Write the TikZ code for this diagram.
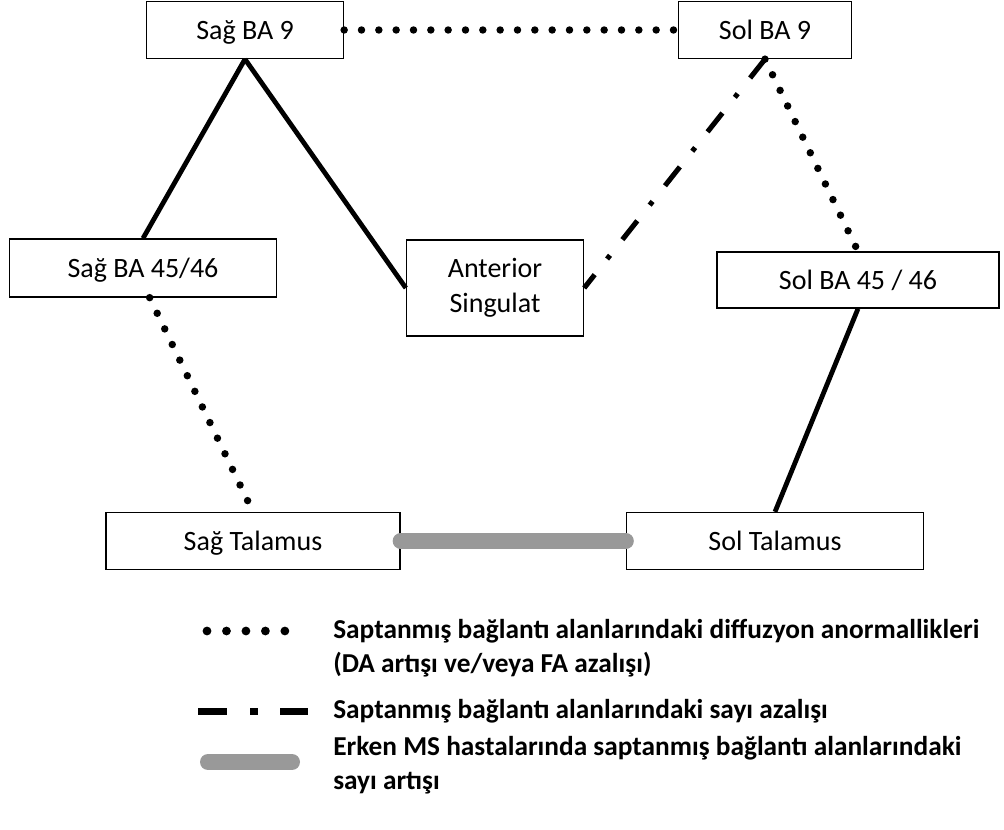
\documentclass[tikz,border=0pt]{standalone}
\usepackage{fontspec}
\setmainfont{Carlito}
\tikzset{
  box/.style={draw, line width=1pt, inner sep=0pt, font=\fontsize{21}{26}\selectfont},
  oneline/.style={text height=16pt, text depth=2pt},
  solidlink/.style={line width=3.6pt},
  dotlink/.style={line width=5.6pt, line cap=round, dash pattern=on 0pt off 13pt},
  dashdotlink/.style={line width=3.8pt, dash pattern=on 18pt off 15pt on 3.5pt off 15pt},
  graylink/.style={line width=12pt, line cap=round, color=gray!80},
  legendtext/.style={anchor=west, align=left, inner sep=0pt, font=\fontsize{20.5}{25.5}\selectfont\bfseries}
}
\begin{document}
\begin{tikzpicture}[x=0.75pt, y=-0.75pt]
  \useasboundingbox (0,0) rectangle (1004,830);
  \node[box, oneline, minimum width=147.75pt, minimum height=42.75pt] (sagba9) at (245,30) {Sağ BA 9};
  \node[box, oneline, minimum width=129.75pt, minimum height=42.75pt] (solba9) at (765,30) {Sol BA 9};
  \node[box, oneline, minimum width=200pt, minimum height=43.5pt] (sagba4546) at (143,268) {Sağ BA 45/46};
  \node[box, align=center, minimum width=132.75pt, minimum height=72pt] (ant) at (495,288) {Anterior\\Singulat};
  \node[box, oneline, minimum width=211.5pt, minimum height=42pt] (solba4546) at (858,280) {Sol BA 45 / 46};
  \node[box, oneline, minimum width=220.5pt, minimum height=42.75pt] (sagtal) at (253,541) {Sağ Talamus};
  \node[box, oneline, minimum width=222.75pt, minimum height=42.75pt] (soltal) at (775,541) {Sol Talamus};

  \draw[solidlink] (sagba9.south) -- (sagba4546.north);
  \draw[solidlink] (sagba9.south) -- (ant.west);
  \draw[solidlink] (solba4546.south) -- (soltal.north);
  \draw[dotlink] (sagba9.east) -- (solba9.west);
  \draw[dotlink] (solba9.south) -- (solba4546.north);
  \draw[dotlink] ([xshift=5pt]sagba4546.south) -- (sagtal.north);
  \draw[dashdotlink] (solba9.south) -- (ant.east);
  \draw[graylink] (sagtal.east) -- (soltal.west);

  \coordinate (dotA) at (207,631);
  \coordinate (dotB) at (285,631);
  \coordinate (dashA) at (198,711);
  \coordinate (dashB) at (308,711);
  \coordinate (grayA) at (208,762);
  \coordinate (grayB) at (292,762);
  \draw[dotlink, line width=6.6pt, dash pattern=on 0pt off 14.6pt] (dotA) -- (dotB);
  \draw[dashdotlink, line width=5.25pt, dash pattern=on 21.75pt off 17.25pt on 6pt off 16.5pt] (dashA) -- (dashB);
  \draw[graylink, line width=12pt] (grayA) -- (grayB);
  \node[legendtext] (leg1) at (333,648) {Saptanmış bağlantı alanlarındaki diffuzyon anormallikleri\\(DA artışı ve/veya FA azalışı)};
  \node[legendtext] (leg2) at (333,711) {Saptanmış bağlantı alanlarındaki sayı azalışı};
  \node[legendtext] (leg3) at (333,765) {Erken MS hastalarında saptanmış bağlantı alanlarındaki\\sayı artışı};
\end{tikzpicture}
\end{document}
